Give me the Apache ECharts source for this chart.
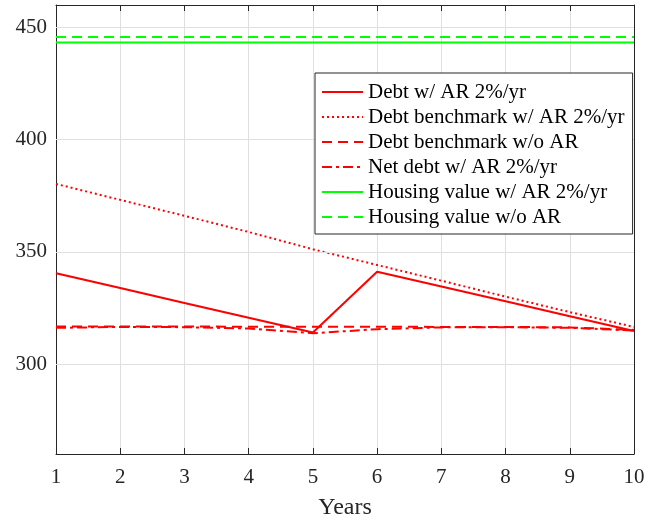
<!DOCTYPE html>
<html><head><meta charset="utf-8">
<script src="https://cdn.jsdelivr.net/npm/echarts@6/dist/echarts.min.js"></script>
<style>html,body{margin:0;padding:0;background:#fff}#c{width:645px;height:520px}</style>
</head><body><div id="c"></div>
<script>
const years = [1,2,3,4,5,6,7,8,9,10];
const debtAR = [340.5,333.9,327.3,320.7,314.1,341.2,334.6,328.0,321.4,314.8];
const debtBenchAR = [380.3,373.2,366.1,358.9,351.2,344.2,337.2,330.1,323.2,316.6];
const debtBenchNoAR = [316.8,316.8,316.8,316.7,316.7,316.7,316.6,316.6,316.4,315.3];
const netDebtAR = [316.2,316.6,316.5,315.9,313.8,315.6,316.4,316.5,316.2,315.0];
const housingAR = [443.3,443.3,443.3,443.3,443.3,443.3,443.3,443.3,443.3,443.3];
const housingNoAR = [445.7,445.7,445.7,445.7,445.7,445.7,445.7,445.7,445.7,445.7];
const yTicks = [300,350,400,450];
const names = ['Debt w/ AR 2%/yr','Debt benchmark w/ AR 2%/yr','Debt benchmark w/o AR','Net debt w/ AR 2%/yr','Housing value w/ AR 2%/yr','Housing value w/o AR'];

const font = 'Liberation Serif';
const axisCol = '#262626';
const gridCol = '#dfdfdf';
function pts(arr){ return years.map((x,i)=>[x,arr[i]]); }
function ser(name, arr, color, type){
  return {name, type:'line', data:pts(arr), symbol:'none', z:3,
    lineStyle:{color, width:2, type, cap:'butt'}, itemStyle:{color}, emphasis:{disabled:true}, animation:false};
}
const series = [
  ser(names[0], debtAR, '#ff0000', 'solid'),
  ser(names[1], debtBenchAR, '#ff0000', [2,3]),
  ser(names[2], debtBenchNoAR, '#ff0000', [10,6]),
  ser(names[3], netDebtAR, '#ff0000', [10,4,3,4]),
  ser(names[4], housingAR, '#00ff00', 'solid'),
  ser(names[5], housingNoAR, '#00ff00', [10,6])
];
const chart = echarts.init(document.getElementById('c'), null, {renderer:'canvas'});
chart.setOption({
  animation:false,
  backgroundColor:'#fff',
  grid:{left:56, right:11, top:5, bottom:66, containLabel:false, outerBoundsMode:'none', show:false},
  legend:{
    orient:'vertical', left:315, top:73, z:20,
    data:names,
    itemWidth:41, itemHeight:14, itemGap:3,
    padding:[8,8,6,6],
    borderColor:axisCol, borderWidth:1, backgroundColor:'#fff',
    itemStyle:{color:'rgba(0,0,0,0)', borderWidth:0, opacity:0},
    textStyle:{fontFamily:font, fontSize:21, color:'#000', lineHeight:22},
  },
  xAxis:[{
    type:'value', min:1, max:10, interval:1,
    name:'Years', nameLocation:'middle', nameGap:42,
    nameTextStyle:{fontFamily:font, fontSize:24, color:axisCol},
    axisLine:{show:true, onZero:false, lineStyle:{color:axisCol, width:1}},
    axisTick:{show:true, inside:true, length:6, lineStyle:{color:axisCol}},
    axisLabel:{fontFamily:font, fontSize:21, color:axisCol, margin:13},
    splitLine:{show:true, lineStyle:{color:gridCol, width:1}}
  },{
    type:'value', min:1, max:10, interval:1, position:'top',
    axisLine:{show:true, onZero:false, lineStyle:{color:axisCol, width:1}},
    axisTick:{show:true, inside:true, length:6, lineStyle:{color:axisCol}},
    axisLabel:{show:false}, splitLine:{show:false}
  }],
  yAxis:[{
    type:'value', min:260, max:460,
    axisLine:{show:true, onZero:false, lineStyle:{color:axisCol, width:1}},
    axisTick:{show:true, inside:true, length:6, customValues:yTicks, lineStyle:{color:axisCol}},
    axisLabel:{fontFamily:font, fontSize:21, color:axisCol, margin:9, customValues:yTicks},
    splitLine:{show:false}
  },{
    type:'value', min:260, max:460, position:'right',
    axisLine:{show:true, onZero:false, lineStyle:{color:axisCol, width:1}},
    axisTick:{show:true, inside:true, length:6, customValues:yTicks, lineStyle:{color:axisCol}},
    axisLabel:{show:false, customValues:yTicks}, splitLine:{show:false}
  }],
  series: series.concat([{
    type:'line', data:[], silent:true, z:1,
    markLine:{silent:true, symbol:['none','none'], label:{show:false}, animation:false,
      lineStyle:{color:gridCol, type:'solid', width:1},
      data: yTicks.map(v=>({yAxis:v}))}
  }])
});
</script></body></html>
